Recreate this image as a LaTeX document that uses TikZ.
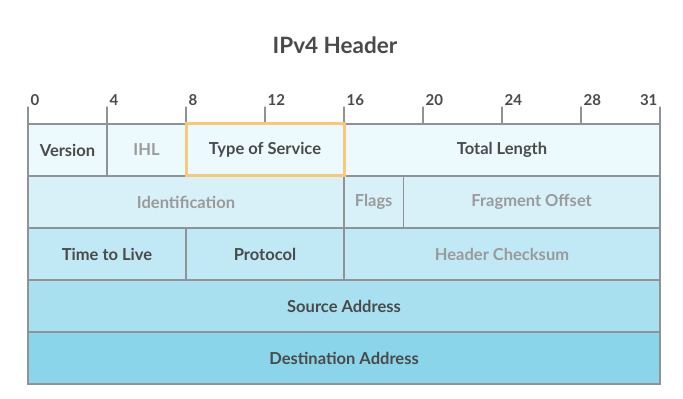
\documentclass[tikz,border=0pt]{standalone}
\usepackage{fontspec}
\setmainfont{Lato}
\usetikzlibrary{positioning}
\definecolor{hdink}{HTML}{4A4A4A}
\definecolor{hdmuted}{HTML}{9A9A9A}
\definecolor{hdline}{HTML}{8E9396}
\definecolor{hdfocus}{HTML}{F8C97A}
\definecolor{hdrowa}{HTML}{EDFAFD}
\definecolor{hdrowb}{HTML}{D8F1F8}
\definecolor{hdrowc}{HTML}{C0E9F5}
\definecolor{hdrowd}{HTML}{A8E0EF}
\definecolor{hdrowe}{HTML}{8AD5EA}
\tikzset{
  hdcell/.style={
    draw=hdline, line width=1.2pt, minimum height=52pt, inner sep=0pt,
    outer sep=0pt, anchor=north west, text=hdink,
    font=\bfseries\fontsize{16.5}{19}\selectfont},
  hdfaint/.style={text=hdmuted},
  hdtick/.style={draw=hdline, line width=1.2pt},
  hdnum/.style={font=\bfseries\fontsize{15}{17}\selectfont, text=hdink,
    inner xsep=2pt, inner ysep=1pt},
  hdtitle/.style={font=\bfseries\fontsize{22.5}{26}\selectfont, text=hdink},
  every picture/.style={line cap=round},
}

\begin{document}
\begin{tikzpicture}[x=1pt, y=1pt]
\useasboundingbox[fill=white] (0, 0) rectangle (683, 399);

% Title.
\node[hdtitle] (title) at (335, 354) {IPv4 Header};

% Row 1.
\node[hdcell, fill=hdrowa, minimum width=79pt] (ver) at (28, 275) {Version};
\node[hdcell, fill=hdrowa, hdfaint, minimum width=79pt] (ihl) at (107, 275) {IHL};
\node[hdcell, fill=hdrowa, minimum width=158pt] (tos) at (186, 275) {Type of Service};
\node[hdcell, fill=hdrowa, minimum width=316pt] (len) at (344, 275) {Total Length};

% Row 2.
\node[hdcell, fill=hdrowb, hdfaint, minimum width=316pt] (ident) at (28, 223) {Identification};
\node[hdcell, fill=hdrowb, hdfaint, minimum width=59.25pt] (flags) at (344, 223) {Flags};
\node[hdcell, fill=hdrowb, hdfaint, minimum width=256.75pt] (frag) at (403.25, 223) {Fragment Offset};

% Row 3.
\node[hdcell, fill=hdrowc, minimum width=158pt] (ttl) at (28, 171) {Time to Live};
\node[hdcell, fill=hdrowc, minimum width=158pt] (proto) at (186, 171) {Protocol};
\node[hdcell, fill=hdrowc, hdfaint, minimum width=316pt] (csum) at (344, 171) {Header Checksum};

% Rows 4 and 5.
\node[hdcell, fill=hdrowd, minimum width=632pt] (src) at (28, 119) {Source Address};
\node[hdcell, fill=hdrowe, minimum width=632pt] (dst) at (28, 67) {Destination Address};

% Bit ruler.
\foreach \b in {0,4,...,28} {
  \draw[hdtick] ({28+19.75*\b}, 275) -- ++(0, 17)
    node[hdnum, anchor=south west] (n\b) {\b};
}
\draw[hdtick] (660, 275) -- ++(0, 17)
  node[hdnum, anchor=south east] (n31) {31};

% Highlighted field.
\draw[draw=hdfocus, line width=3pt] (tos.north west) rectangle (tos.south east);

\end{tikzpicture}
\end{document}
